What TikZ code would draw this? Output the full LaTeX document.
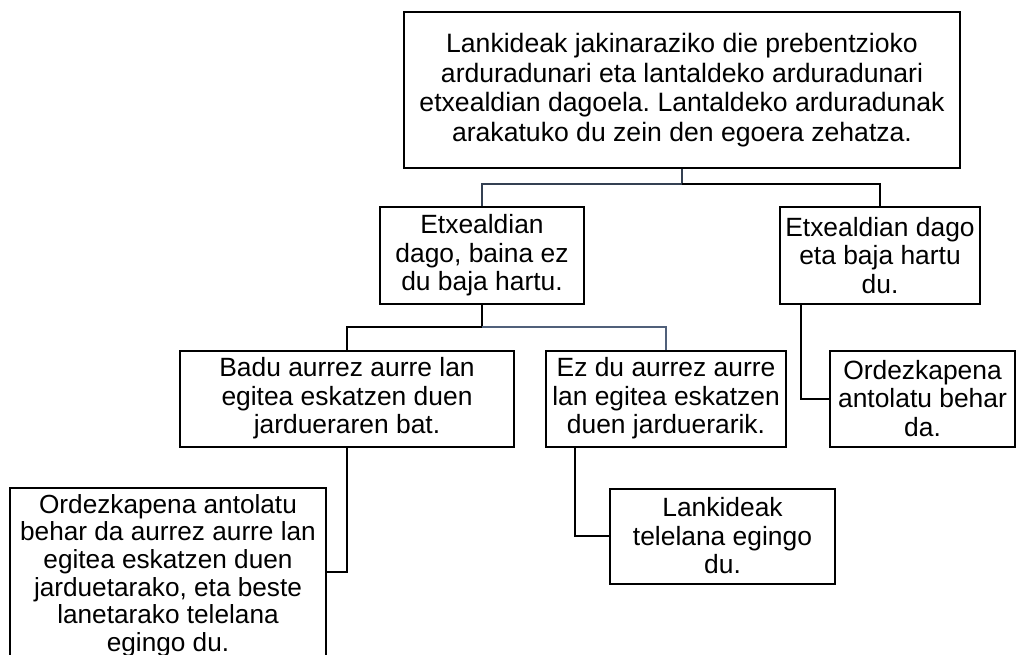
\documentclass[tikz,border=0pt]{standalone}
\usepackage{fontspec}
\setmainfont{Liberation Sans}
\frenchspacing
\definecolor{slate}{RGB}{52,64,82}
\definecolor{grayblue}{RGB}{80,96,122}
\begin{document}
\begin{tikzpicture}[x=1pt,y=-1pt,
  box/.style={draw, line width=2pt, align=center, inner sep=0pt,
    font=\fontsize{26.4}{28.5}\selectfont},
  conn/.style={line width=2pt, line join=miter}]
\useasboundingbox (0,0) rectangle (1019,655);
\clip (0,0) rectangle (1019,655);
\node[box, minimum width=556pt, minimum height=156pt, font=\fontsize{26.6}{29.7}\selectfont] (top) at (682,90)
  {Lankideak jakinaraziko die prebentzioko\\arduradunari eta lantaldeko arduradunari\\etxealdian dagoela. Lantaldeko arduradunak\\arakatuko du zein den egoera zehatza.};
\node[box, minimum width=204pt, minimum height=97pt] (l2l) at (482,255.5)
  {Etxealdian\\dago, baina ez\\du baja hartu.};
\node[box, minimum width=200pt, minimum height=97pt] (l2r) at (880,255.5)
  {Etxealdian dago\\eta baja hartu\\du.};
\node[box, minimum width=334pt, minimum height=96pt] (l3l) at (347,398.5)
  {Badu aurrez aurre lan\\egitea eskatzen duen\\jardueraren bat.};
\node[box, minimum width=240pt, minimum height=96pt] (l3m) at (666,398.5)
  {Ez du aurrez aurre\\lan egitea eskatzen\\duen jarduerarik.};
\node[box, minimum width=185pt, minimum height=96pt] (l3r) at (922.5,398.5)
  {Ordezkapena\\antolatu behar\\da.};
\node[box, minimum width=316pt, minimum height=175pt, font=\fontsize{26.2}{27.6}\selectfont] (l4l) at (168,575.5)
  {Ordezkapena antolatu\\behar da aurrez aurre lan\\egitea eskatzen duen\\jarduetarako, eta beste\\lanetarako telelana\\egingo du.};
\node[box, minimum width=225pt, minimum height=95pt] (l4m) at (722.5,536)
  {Lankideak\\telelana egingo\\du.};
\coordinate (j1) at (682,184);
\coordinate (j2) at (482,327);
\draw[conn, slate] (top.south) -- (j1) -| (l2l.north);
\draw[conn] (j1) -| (l2r.north);
\draw[conn] (l2l.south) -- (j2) -| (l3l.north);
\draw[conn, grayblue] (j2) -| (l3m.north);
\draw[conn] ([xshift=22pt]l2r.south west) |- (l3r.west);
\draw[conn] (l3l.south) |- ([yshift=3.5pt]l4l.east);
\draw[conn] ([xshift=-91pt]l3m.south) |- (l4m.west);
\end{tikzpicture}
\end{document}
